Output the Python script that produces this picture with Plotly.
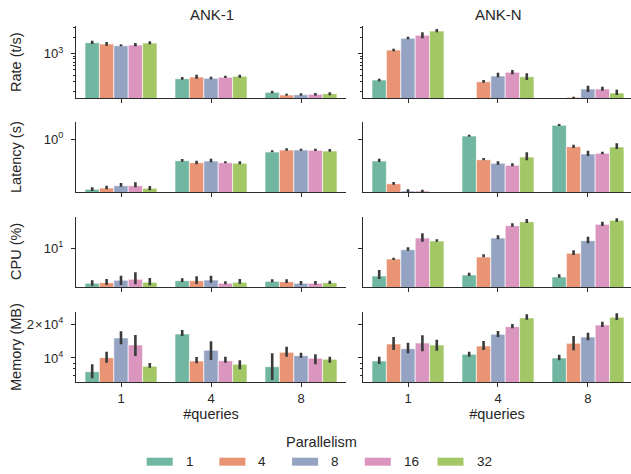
import plotly.graph_objects as go
from plotly.subplots import make_subplots

# ---------------- data ----------------
queries = ["1", "4", "8"]
parallelism = ["1", "4", "8", "16", "32"]
systems = ["ANK-1", "ANK-N"]
metrics = ["Rate (t/s)", "Latency (s)", "CPU (%)", "Memory (MB)"]
colors = ["#71b6a0", "#e99575", "#95a3c3", "#db96c0", "#a2c764"]

# one list per parallelism level, ordered by #queries (1, 4, 8)
rate_ank1 = [[1600, 344, 193], [1512, 370, 172], [1406, 350, 174], [1449, 366, 177], [1578, 382, 182]]
rate_ank1_lo = [[1512, 330, 185], [1406, 344, 167], [1371, 336, 167], [1371, 355, 167], [1493, 358, 170]]
rate_ank1_hi = [[1741, 370, 206], [1647, 408, 182], [1493, 375, 185], [1578, 391, 187], [1697, 408, 193]]

rate_ankn = [[326, None, None], [1171, 303, 156], [1928, 386, 222], [2192, 453, 222], [2633, 375, 187]]
rate_ankn_lo = [[308, None, None], [1108, 290, 151], [1848, 366, 195], [1928, 415, 206], [2490, 326, 172]]
rate_ankn_hi = [[344, None, None], [1238, 326, 160], [2064, 445, 255], [2490, 499, 245], [2866, 434, 216]]

lat_ank1 = [[0.00825, 0.128, 0.296], [0.00935, 0.106, 0.358], [0.01166, 0.1247, 0.358], [0.01166, 0.106, 0.348], [0.00908, 0.1, 0.3255]]
lat_ank1_lo = [[0.00702, 0.1166, 0.287], [0.00825, 0.0908, 0.335], [0.0106, 0.110, 0.335], [0.0100, 0.1, 0.3255], [0.0075, 0.0908, 0.304]]
lat_ank1_hi = [[0.0100, 0.151, 0.348], [0.01166, 0.128, 0.422], [0.0151, 0.1555, 0.406], [0.0162, 0.121, 0.406], [0.0113, 0.121, 0.394]]

lat_ankn = [[0.1247, 1.372, 3.83], [0.0141, 0.1413, 0.492], [0.00702, 0.1, 0.244], [0.00702, 0.0825, 0.261], [None, 0.183, 0.478]]
lat_ankn_lo = [[0.1133, 1.283, 3.58], [0.0128, 0.1334, 0.434], [0.00596, 0.0874, 0.2015], [0.00619, 0.075, 0.237], [None, 0.1334, 0.394]]
lat_ankn_hi = [[0.1555, 1.555, 4.34], [0.0166, 0.166, 0.596], [0.00825, 0.121, 0.335], [0.00794, 0.1, 0.304], [None, 0.287, 0.681]]

cpu_ank1 = [[0.681, 0.832, 0.794], [0.713, 0.832, 0.774], [0.858, 0.878, 0.681], [0.926, 0.681, 0.681], [0.736, 0.736, 0.713]]
cpu_ank1_lo = [[0.567, 0.753, 0.736], [0.598, 0.646, 0.697], [0.598, 0.713, 0.612], [0.631, 0.631, 0.612], [0.584, 0.661, 0.646]]
cpu_ank1_hi = [[0.858, 1.0, 0.926], [0.948, 1.166, 0.926], [1.221, 1.221, 0.813], [1.585, 0.794, 0.813], [1.023, 0.948, 0.832]]

cpu_ankn = [[1.193, 1.288, 1.105], [4.40, 5.13, 6.81], [8.98, 22.0, 17.9], [22.0, 56.7, 63.1], [17.5, 77.0, 85.8]]
cpu_ankn_lo = [[0.948, 1.193, 1.047], [4.07, 5.01, 5.98], [8.32, 19.95, 14.7], [16.6, 52.5, 55.4], [16.6, 69.7, 77.0]]
cpu_ankn_hi = [[1.891, 1.537, 1.36], [4.86, 6.31, 8.58], [10.8, 27.1, 24.4], [31.6, 68.1, 77.0], [19.95, 94.8, 100]]

mem_ank1 = [[7546, 16379, 8362], [10062, 9402, 11243], [15085, 11716, 10484], [13062, 9460, 9938], [8433, 8784, 9736]]
mem_ank1_lo = [[6588, 15724, 6360], [9080, 8966, 10271], [13252, 9597, 10062], [10420, 9080, 8784], [8194, 7926, 9080]]
mem_ank1_hi = [[8784, 17783, 11014], [11382, 10207, 12616], [17316, 14096, 11152], [16050, 10271, 10790], [9024, 9539, 10271]]

mem_ankn = [[9402, 10790, 10000], [13335, 12800, 13530], [12106, 16278, 15399], [13612, 19035, 19704], [13062, 22758, 23090]]
mem_ankn_lo = [[8841, 10271, 9539], [11788, 11788, 11716], [11014, 15399, 14388], [11476, 18417, 18918], [11620, 21979, 21842]]
mem_ankn_hi = [[10271, 11382, 10702], [15399, 14183, 15724], [13695, 17424, 16823], [15948, 20120, 21095], [14569, 24556, 25063]]

# y tick labels per metric row
rate_ticks = [1000]
rate_ticktext = ["10<sup>3</sup>"]
rate_minor = [200, 300, 400, 500, 600, 700, 800, 900, 2000, 3000]
lat_ticks = [1]
lat_ticktext = ["10<sup>0</sup>"]
cpu_ticks = [10]
cpu_ticktext = ["10<sup>1</sup>"]
mem_ticks = [10000, 20000]
mem_ticktext = ["10<sup>4</sup>", "2\u200a×\u200a10<sup>4</sup>"]
mem_minor = [7000, 8000, 9000]

data = {
    (0, 0): (rate_ank1, rate_ank1_lo, rate_ank1_hi),
    (0, 1): (rate_ankn, rate_ankn_lo, rate_ankn_hi),
    (1, 0): (lat_ank1, lat_ank1_lo, lat_ank1_hi),
    (1, 1): (lat_ankn, lat_ankn_lo, lat_ankn_hi),
    (2, 0): (cpu_ank1, cpu_ank1_lo, cpu_ank1_hi),
    (2, 1): (cpu_ankn, cpu_ankn_lo, cpu_ankn_hi),
    (3, 0): (mem_ank1, mem_ank1_lo, mem_ank1_hi),
    (3, 1): (mem_ankn, mem_ankn_lo, mem_ankn_hi),
}
row_ticks = [
    (rate_ticks, rate_ticktext, rate_minor),
    (lat_ticks, lat_ticktext, []),
    (cpu_ticks, cpu_ticktext, []),
    (mem_ticks, mem_ticktext, mem_minor),
]

# ---------------- layout constants ----------------
W, H = 631, 474
FONT = "Liberation Sans, Arial, sans-serif"
TXT = "#262626"
AX = "#2b2b2b"
x_px = [(76, 346), (363, 631)]
x_ranges = [[-0.5, 2.5], [-0.5, 2.478]]
y_px = [(26, 98), (121.7, 192.3), (216.7, 287.3), (311.7, 382.3)]
y_ranges = [[2.180, 3.513], [-2.208, 0.733], [-0.3, 2.053], [3.783, 4.413]]

fig = make_subplots(rows=4, cols=2)

for r in range(4):
    for c in range(2):
        mean, lo, hi = data[(r, c)]
        for k, p in enumerate(parallelism):
            m = mean[k]
            plus = [0 if v is None else h - v for v, h in zip(m, hi[k])]
            minus = [0 if v is None else v - l for v, l in zip(m, lo[k])]
            fig.add_trace(
                go.Bar(
                    x=queries, y=m, name=p, offsetgroup=p, showlegend=False,
                    marker=dict(color=colors[k], line=dict(color="rgba(255,255,255,0.8)", width=0.8)),
                    error_y=dict(type="data", symmetric=False, array=plus, arrayminus=minus,
                                 color="#3a3a3a", thickness=2.6, width=0),
                ),
                row=r + 1, col=c + 1,
            )

for r in range(4):
    tv, tt, mv = row_ticks[r]
    for c in range(2):
        fig.update_xaxes(
            type="category", categoryorder="array", categoryarray=queries,
            domain=[x_px[c][0] / W, x_px[c][1] / W], range=x_ranges[c],
            showline=True, linecolor=AX, linewidth=1.3, mirror=False,
            ticks="outside", ticklen=4, tickwidth=1.2, tickcolor=AX,
            showgrid=False, zeroline=False,
            showticklabels=(r == 3),
            tickfont=dict(family=FONT, size=13, color=TXT),
            row=r + 1, col=c + 1,
        )
        fig.update_yaxes(
            type="log", domain=[1 - y_px[r][1] / H, 1 - y_px[r][0] / H], range=y_ranges[r],
            showline=True, linecolor=AX, linewidth=1.3, mirror=False,
            ticks="outside", ticklen=4, tickwidth=1.2, tickcolor=AX,
            tickmode="array", tickvals=tv, ticktext=tt,
            minor=dict(tickmode="array", tickvals=mv, ticks="outside", ticklen=2.2,
                       tickwidth=0.9, tickcolor=AX, showgrid=False),
            showgrid=False, zeroline=False,
            showticklabels=(c == 0), ticklabelstandoff=5,
            tickfont=dict(family=FONT, size=13, color=TXT),
            row=r + 1, col=c + 1,
        )

for c in range(2):
    fig.update_xaxes(title=dict(text="#queries", font=dict(family=FONT, size=14.5, color=TXT), standoff=3),
                     row=4, col=c + 1)

annotations = []
for c, s in enumerate(systems):
    annotations.append(dict(text=s, x=(x_px[c][0] + x_px[c][0] + 271) / 2 / W, y=1 - 14.5 / H,
                            xref="paper", yref="paper", showarrow=False, xanchor="center", yanchor="middle",
                            font=dict(family=FONT, size=15, color=TXT)))
for r, mname in enumerate(metrics):
    annotations.append(dict(text=mname, x=16 / W, y=1 - (y_px[r][0] + y_px[r][1]) / 2 / H,
                            xref="paper", yref="paper", showarrow=False, textangle=-90,
                            xanchor="center", yanchor="middle",
                            font=dict(family=FONT, size=14.5, color=TXT)))

# legend (drawn manually to get seaborn-style wide swatches)
shapes = []
annotations.append(dict(text="Parallelism", x=321.7 / W, y=1 - 441.7 / H, xref="paper", yref="paper",
                        showarrow=False, xanchor="center", yanchor="middle",
                        font=dict(family=FONT, size=14.5, color=TXT)))
for k, p in enumerate(parallelism):
    x0 = 146.7 + 72.7 * k
    shapes.append(dict(type="rect", xref="paper", yref="paper",
                       x0=x0 / W, x1=(x0 + 26) / W, y0=1 - 465.7 / H, y1=1 - 457.7 / H,
                       fillcolor=colors[k], line=dict(width=0)))
    annotations.append(dict(text=p, x=(x0 + 37) / W, y=1 - 461.7 / H, xref="paper", yref="paper",
                            showarrow=False, xanchor="left", yanchor="middle",
                            font=dict(family=FONT, size=13.5, color=TXT)))

fig.update_layout(
    width=W, height=H, margin=dict(l=0, r=0, t=0, b=0),
    paper_bgcolor="white", plot_bgcolor="white",
    barmode="group", bargap=0.2, bargroupgap=0,
    showlegend=False, annotations=annotations, shapes=shapes,
    font=dict(family=FONT, color=TXT),
)

fig.write_html("out.html", config={"displayModeBar": False},
               post_script="document.body.style.margin='0';document.body.style.overflow='hidden';")
